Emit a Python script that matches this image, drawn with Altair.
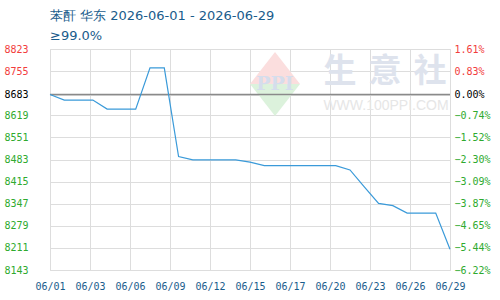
import altair as alt
import pandas as pd

dates = ["06/01", "06/02", "06/03", "06/04", "06/05", "06/06", "06/07", "06/08",
         "06/09", "06/10", "06/11", "06/12", "06/13", "06/14", "06/15", "06/16",
         "06/17", "06/18", "06/19", "06/20", "06/21", "06/22", "06/23", "06/24",
         "06/25", "06/26", "06/27", "06/28", "06/29"]
prices = [8683, 8666, 8666, 8666, 8638, 8638, 8638, 8765, 8765, 8492,
          8482, 8482, 8482, 8482, 8475, 8464, 8464, 8464, 8464, 8464,
          8464, 8451, 8399, 8348, 8341, 8318, 8318, 8318, 8207]
y_ticks = [8143, 8211, 8279, 8347, 8415, 8483, 8551, 8619, 8683, 8755, 8823]
x_tick_labels = ["06/01", "06/03", "06/06", "06/09", "06/12", "06/15",
                 "06/17", "06/20", "06/23", "06/26", "06/29"]
base_price = 8683
title_line1 = "苯酐 华东 2026-06-01 - 2026-06-29"
title_line2 = "≥99.0%"

df = pd.DataFrame({"i": list(range(len(dates))), "date": dates, "price": prices})
n = len(dates) - 1
step = n / (len(x_tick_labels) - 1)
x_tick_vals = [k * step for k in range(len(x_tick_labels))]
label_arr = "[" + ",".join("'%s'" % s for s in x_tick_labels) + "]"

FONT = "DejaVu Sans Mono"
BLUE_TXT = "#1a5c8c"

x_enc = alt.X(
    "i:Q",
    scale=alt.Scale(domain=[0, n], nice=False, zero=False),
    axis=alt.Axis(
        values=x_tick_vals,
        labelExpr=label_arr + "[round(datum.value/%s)]" % step,
        title=None, grid=True, labelFont=FONT, labelFontSize=10,
        labelColor=BLUE_TXT, labelPadding=11, ticks=False, domain=False,
        labelFlush=False, labelOverlap=False,
    ),
)
y_scale = alt.Scale(domain=[y_ticks[0], y_ticks[-1]], nice=False, zero=False)

label_color = {
    "condition": [
        {"test": "datum.value > %d" % (base_price + 1), "value": "#f23c3c"},
        {"test": "datum.value < %d" % (base_price - 1), "value": "#2eaa2e"},
    ],
    "value": "#000000",
}

left_axis = alt.Axis(
    values=y_ticks, title=None, grid=True, format="d", labelFont=FONT,
    labelFontSize=10, labelColor=label_color, labelPadding=22, ticks=False,
    domain=False, labelFlush=False, labelOverlap=False,
)
right_axis = alt.Axis(
    values=y_ticks, title=None, grid=False, orient="right",
    labelExpr="format((datum.value/%d-1)*100, '.2f') + '%%'" % base_price,
    labelFont=FONT, labelFontSize=10, labelColor=label_color, labelPadding=4,
    ticks=False, domain=False, labelFlush=False, labelOverlap=False,
)

src = alt.Chart(df)

# watermark
wm = pd.DataFrame({"k": [0]})
wmc = alt.Chart(wm)
tri_up = wmc.mark_point(shape="M -1 0 L 0 -1.28 L 1 0 Z", filled=True, size=2500,
                        color="#fbdede", opacity=1).encode(x=alt.value(225), y=alt.value(35))
tri_dn = wmc.mark_point(shape="M -1 0 L 0 1.28 L 1 0 Z", filled=True, size=2500,
                        color="#dcf2dc", opacity=1).encode(x=alt.value(225), y=alt.value(35))
ppi = wmc.mark_text(text="PPI", font="DejaVu Serif", fontWeight="bold", fontSize=19,
                    color="#d5ddec", baseline="middle").encode(x=alt.value(225), y=alt.value(35))
wm_chars = []
for ch, xx in zip(["生", "意", "社"], [290, 335, 380]):
    wm_chars.append(wmc.mark_text(text=ch, font="Noto Sans CJK SC", fontWeight="bold",
                                  fontSize=33, color="#dee3ed", baseline="middle")
                    .encode(x=alt.value(xx), y=alt.value(23)))
www = wmc.mark_text(text="WWW.100PPI.COM", font="Liberation Sans", fontSize=14,
                    color="#e6e6e6", baseline="middle").encode(x=alt.value(336), y=alt.value(57))

t1 = wmc.mark_text(text=title_line1, font="DejaVu Sans", fontSize=13, color=BLUE_TXT,
                   align="left", baseline="alphabetic").encode(x=alt.value(0), y=alt.value(-29))
t2 = wmc.mark_text(text=title_line2, font="DejaVu Sans", fontSize=13, color=BLUE_TXT,
                   align="left", baseline="alphabetic").encode(x=alt.value(0), y=alt.value(-9))

line = src.mark_line(color="#3a9ad9", strokeWidth=1.2).encode(
    x=x_enc, y=alt.Y("price:Q", scale=y_scale, axis=left_axis))
rule = alt.Chart(pd.DataFrame({"b": [base_price]})).mark_rule(
    color="#8a8a8a", strokeWidth=1.6).encode(
    y=alt.Y("b:Q", scale=y_scale, axis=None))
right = src.mark_line(opacity=0).encode(
    x=x_enc, y=alt.Y("price:Q", scale=y_scale, axis=right_axis))

chart = alt.layer(
    tri_up, tri_dn, ppi, *wm_chars, www, t1, t2, rule, line, right
).resolve_scale(y="independent").resolve_axis(y="independent").properties(
    width=400, height=221,
    autosize=alt.AutoSizeParams(type="none"),
    padding={"left": 50, "top": 49, "right": 50, "bottom": 30},
).configure_view(stroke="#a0a0a0", strokeWidth=1.5).configure_axis(
    gridColor="#cccccc", gridDash=[3, 2], gridWidth=1
).configure(background="white")

chart.save("out.html", embed_options={"renderer": "svg", "actions": False})
